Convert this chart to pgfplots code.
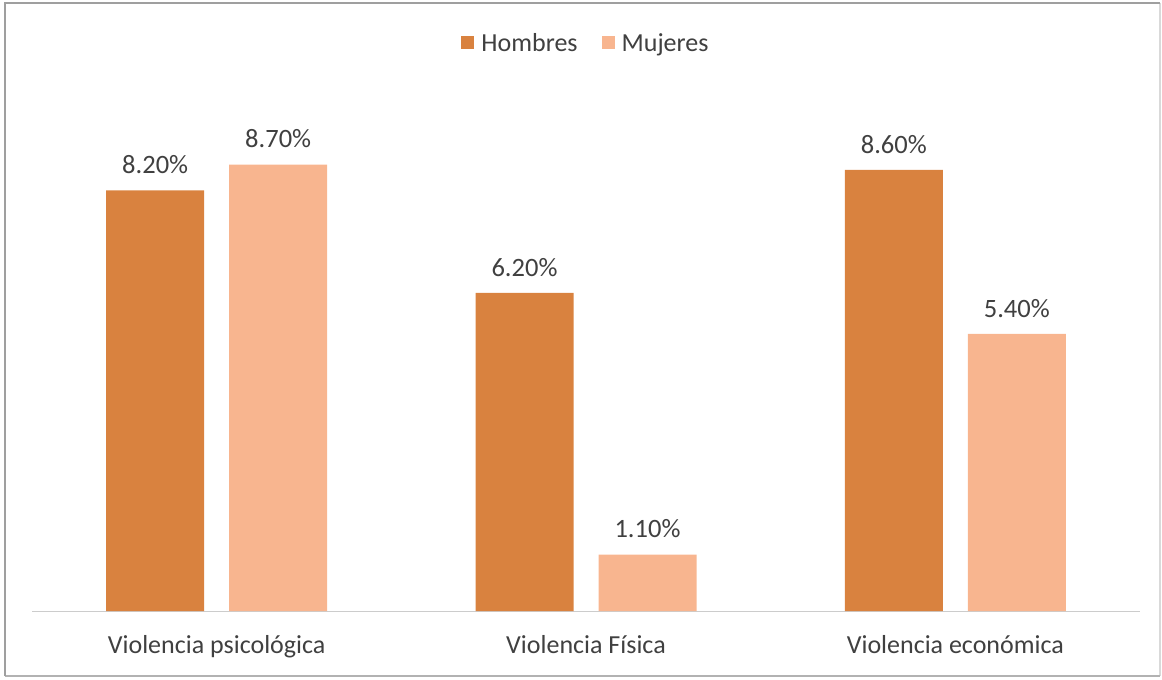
\documentclass[border=0pt]{standalone}
\usepackage{pgfplots}
\pgfplotsset{compat=1.18}
\usepackage{fontspec}
\setmainfont{Carlito}
\definecolor{hom}{HTML}{D9823F}
\definecolor{muj}{HTML}{F8B58F}
\definecolor{txt}{HTML}{404040}
\begin{document}
\begin{tikzpicture}
\begin{axis}[
  scale only axis,
  width=1108pt, height=513pt,
  xmin=-0.5, xmax=2.5, ymin=0, ymax=10,
  ybar=25pt, bar width=98pt,
  axis x line=bottom, axis y line=none,
  x axis line style={-, draw=gray!40, line width=0.8pt},
  xtick={0,1,2},
  xticklabels={Violencia psicológica, Violencia Física, Violencia económica},
  major tick length=0pt,
  /pgf/number format/assume math mode=true,
  xticklabel style={font=\fontsize{26}{30}\selectfont, text=txt, yshift=-21pt},
  nodes near coords={\pgfmathprintnumber[fixed,fixed zerofill,precision=2,assume math mode=true]{\pgfplotspointmeta}\%},
  every node near coord/.append style={font=\fontsize{26.5}{30}\selectfont, text=txt, yshift=13pt},
  legend columns=2,
  legend style={at={(0.5,1)}, anchor=center, yshift=55pt, draw=none, font=\fontsize{26}{30}\selectfont, text=txt, /tikz/every even column/.append style={column sep=22pt}},
  legend image code/.code={\fill[#1] (0pt,-6pt) rectangle (13pt,7pt); \path (18pt,0pt);},
  clip=false,
]
\addplot[fill=hom, draw=none] coordinates {(0,8.2) (1,6.2) (2,8.6)};
\addplot[fill=muj, draw=none] coordinates {(0,8.7) (1,1.1) (2,5.4)};
\legend{Hombres, Mujeres}
\path[fill=none,draw=none] ([xshift=-32pt,yshift=-68pt]rel axis cs:0,0) rectangle ([xshift=22pt,yshift=98pt]rel axis cs:1,1);
\draw[gray!30, line width=1.2pt] ([xshift=20pt,yshift=-65pt]rel axis cs:1,0) -- ([xshift=20pt,yshift=95pt]rel axis cs:1,1);
\draw[gray!60, line width=1.2pt] ([xshift=-27pt,yshift=-65pt]rel axis cs:0,0) -- ([xshift=20pt,yshift=-65pt]rel axis cs:1,0);
\draw[gray!75, line width=1.5pt] ([xshift=-27pt,yshift=-65pt]rel axis cs:0,0) -- ([xshift=-27pt,yshift=95pt]rel axis cs:0,1) -- ([xshift=20pt,yshift=95pt]rel axis cs:1,1);
\end{axis}
\end{tikzpicture}
\end{document}
